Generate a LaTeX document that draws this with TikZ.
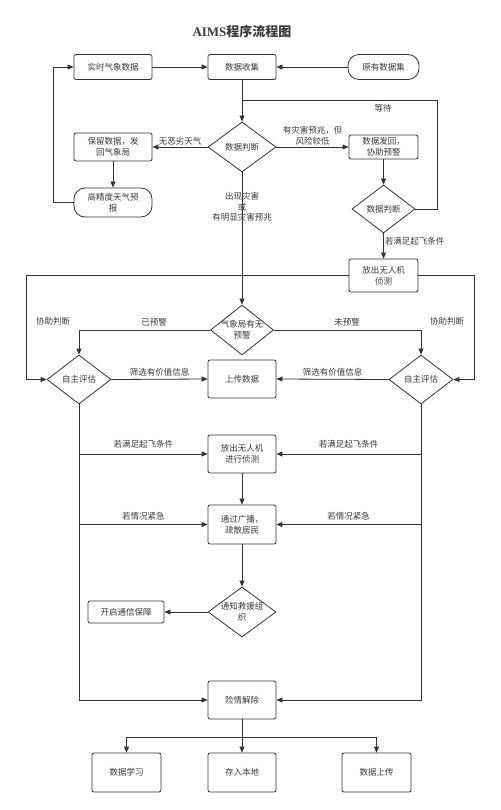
\documentclass[tikz,border=0pt]{standalone}
\usepackage{fontspec}
\setmainfont{Noto Sans CJK SC}
\newfontfamily\latinserif{Liberation Serif}
\usetikzlibrary{arrows.meta,shapes.geometric}
\definecolor{ln}{HTML}{333333}
\definecolor{tx}{HTML}{3A3A3A}
\tikzset{
  base/.style={draw=ln, line width=0.8pt, fill=white, align=center, text=tx, font=\fontsize{8.5}{11}\selectfont, inner sep=1pt},
  box/.style={base, rounded corners=2pt},
  stad/.style={base, rounded corners=11pt},
  dec/.style={base, shape=diamond, inner sep=0pt},
  lab/.style={text=tx, font=\fontsize{8.5}{11}\selectfont, align=center, inner sep=1pt},
  arr/.style={draw=ln, line width=0.8pt, -{Triangle[length=6pt,width=5pt]}},
  ln/.style={draw=ln, line width=0.8pt}
}
\begin{document}
\begin{tikzpicture}[x=1pt,y=-1pt]
\useasboundingbox (0,0) rectangle (500,810);
\node[lab, font=\fontsize{13}{15}\selectfont\bfseries] (title) at (242,32) {{\latinserif AIMS}程序流程图};
% top row
\node[box, minimum width=78pt, minimum height=25pt] (shishi) at (113,67) {实时气象数据};
\node[box, minimum width=68pt, minimum height=25pt] (shouji) at (242,67) {数据收集};
\node[stad, minimum width=71pt, minimum height=25pt] (yuanyou) at (383.5,67) {原有数据集};
% second row
\node[dec, minimum width=68pt, minimum height=50pt, label={[lab]center:数据判断}] (pd1) at (242,147) {};
\node[box, minimum width=78pt, minimum height=28pt] (baoliu) at (113,147) {保留数据，发\\回气象局};
\node[stad, minimum width=78pt, minimum height=29pt] (gaojing) at (113,202.5) {高精度天气预\\报};
\node[box, minimum width=69pt, minimum height=24pt] (fahui) at (383.5,147) {数据发回，\\协助预警};
\node[dec, minimum width=63pt, minimum height=48pt, label={[lab]center:数据判断}] (pd2) at (383.5,209) {};
\node[box, minimum width=69pt, minimum height=33pt] (fangchu1) at (383.5,275.5) {放出无人机\\侦测};
% middle
\node[dec, minimum width=63pt, minimum height=50pt, label={[lab, align=center]center:气象局有无\\预警}] (qxj) at (242,330) {};
\node[dec, minimum width=64pt, minimum height=49pt, label={[lab]center:自主评估}] (zz1) at (79,379.5) {};
\node[dec, minimum width=64pt, minimum height=49pt, label={[lab]center:自主评估}] (zz2) at (421,379.5) {};
\node[box, minimum width=68pt, minimum height=38pt] (shangchuan) at (242,379) {上传数据};
\node[box, minimum width=68pt, minimum height=38pt] (fangchu2) at (242,454) {放出无人机\\进行侦测};
\node[box, minimum width=68pt, minimum height=39pt] (tongguo) at (242,524.5) {通过广播，\\疏散居民};
\node[dec, minimum width=68pt, minimum height=50pt, label={[lab, align=center]center:通知救援组\\织}] (tongzhi) at (242,612) {};
\node[box, minimum width=76pt, minimum height=22pt] (kaiqi) at (126,612) {开启通信保障};
\node[box, minimum width=68pt, minimum height=38pt] (xianqing) at (242,700) {险情解除};
\node[box, minimum width=69pt, minimum height=39pt] (xuexi) at (126.5,772.5) {数据学习};
\node[box, minimum width=68pt, minimum height=39pt] (cunru) at (242,772.5) {存入本地};
\node[box, minimum width=69pt, minimum height=39pt] (shangchuan2) at (376.5,772.5) {数据上传};
% coordinates
\coordinate (w1) at (437,100);
\coordinate (w2) at (242,100);
\coordinate (lt) at (53,67);
\coordinate (L1) at (26,275.5);
\coordinate (R1) at (474,275.5);
\coordinate (a1) at (79,454);
\coordinate (a2) at (421,454);
\coordinate (b1) at (79,524.5);
\coordinate (b2) at (421,524.5);
\coordinate (br) at (242,737);
% connectors
\draw[arr] (shishi) -- (shouji);
\draw[arr] (yuanyou) -- (shouji);
\draw[arr] (shouji) -- (pd1.north);
\draw[ln] (pd2.east) -| (w1) -- (w2);
\node[lab] (dengdai) at (383,108) {等待};
\draw[arr] (pd1.west) -- node[lab, above] (l1) {无恶劣天气} (baoliu.east);
\draw[arr] (pd1.east) -- node[lab, above] (l2) {有灾害预兆，但\\风险较低} (fahui.west);
\draw[arr] (baoliu) -- (gaojing);
\draw[arr] (gaojing.west) -| (lt) -- (shishi.west);
\draw[arr] (fahui) -- (pd2.north);
\draw[arr] (pd2.south) -- node[lab, right, pos=0.3] (l3) {若满足起飞条件} (fangchu1.north);
\draw[arr] (pd1.south) -- (qxj.north);
\node[lab, font=\fontsize{8.5}{10.5}\selectfont] (l4) at (242,207) {出现灾害\\或\\有明显灾害预兆};
\draw[arr] (fangchu1.west) -- (L1) |- (zz1.west);
\draw[arr] (fangchu1.east) -- (R1) |- (zz2.east);
\node[lab] (l5) at (53,321) {协助判断};
\node[lab] (l6) at (447,321) {协助判断};
\draw[arr] (qxj.west) -| (zz1.north);
\draw[arr] (qxj.east) -| (zz2.north);
\node[lab] (l7) at (154,322) {已预警};
\node[lab] (l8) at (347,322) {未预警};
\draw[arr] (zz1.east) -- node[lab, above=2pt] (l9) {筛选有价值信息} (shangchuan.west);
\draw[arr] (zz2.west) -- node[lab, above=2pt] (l10) {筛选有价值信息} (shangchuan.east);
\draw[arr] (zz1.south) |- (xianqing.west);
\draw[arr] (zz2.south) |- (xianqing.east);
\draw[arr] (a1) -- node[lab, above=4pt] (l11) {若满足起飞条件} (fangchu2.west);
\draw[arr] (a2) -- node[lab, above=4pt] (l12) {若满足起飞条件} (fangchu2.east);
\draw[arr] (b1) -- node[lab, above=3pt] (l13) {若情况紧急} (tongguo.west);
\draw[arr] (b2) -- node[lab, above=3pt] (l14) {若情况紧急} (tongguo.east);
\draw[arr] (fangchu2) -- (tongguo);
\draw[arr] (tongguo) -- (tongzhi.north);
\draw[arr] (tongzhi.west) -- (kaiqi.east);
\draw[ln] (xianqing.south) -- (br);
\draw[arr] (br) -| (xuexi.north);
\draw[arr] (br) -| (shangchuan2.north);
\draw[arr] (br) -- (cunru.north);
\end{tikzpicture}
\end{document}
